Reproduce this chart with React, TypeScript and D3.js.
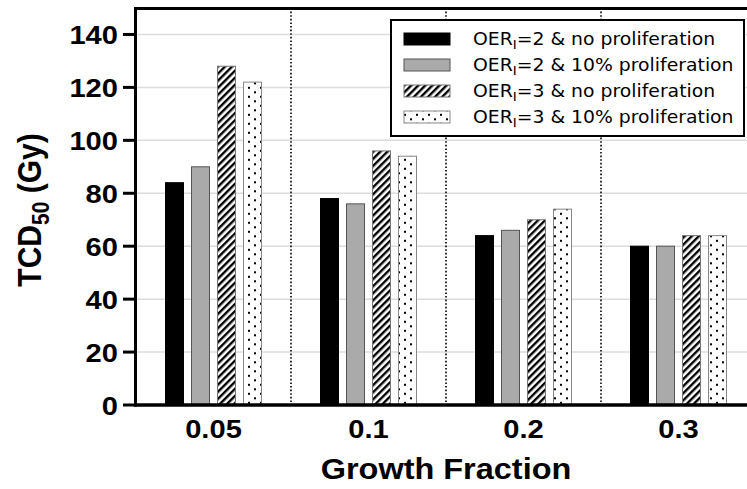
import React, { useRef, useEffect } from 'react';
import { select, scaleBand, scaleLinear } from 'd3';

const categories = ['0.05', '0.1', '0.2', '0.3'];
const seriesNames = ['oer2NoProl', 'oer2Prol', 'oer3NoProl', 'oer3Prol'];
const oer2NoProl = [84, 78, 64, 60];
const oer2Prol = [90, 76, 66, 60];
const oer3NoProl = [128, 96, 70, 64];
const oer3Prol = [122, 94, 74, 64];
const seriesValues = [oer2NoProl, oer2Prol, oer3NoProl, oer3Prol];
const yTicks = [0, 20, 40, 60, 80, 100, 120, 140];
const legendOer = ['2', '2', '3', '3'];
const legendRest = [' & no proliferation', ' & 10% proliferation', ' & no proliferation', ' & 10% proliferation'];

const W = 747;
const H = 489;
const SX = 1.12; // the source figure is a bit stretched horizontally

export default function App() {
    const ref = useRef<SVGSVGElement | null>(null);

    useEffect(() => {
        document.body.style.margin = '0';
        if (!ref.current) return;
        const svg = select(ref.current);
        svg.selectAll('*').remove();

        const left = 136, right = 756, top = 8, bottom = 405;

        const x0 = scaleBand<string>().domain(categories).range([left, right]);
        const x1 = scaleBand<string>().domain(seriesNames).range([0, 104]).paddingInner(8 / 26).paddingOuter(4 / 26);
        const groupOffset = (x0.bandwidth() - 104) / 2;
        const y = scaleLinear().domain([0, 150]).range([bottom, top]);

        const defs = svg.append('defs');
        const hatch = defs.append('pattern')
            .attr('id', 'hatch')
            .attr('patternUnits', 'userSpaceOnUse')
            .attr('width', 5).attr('height', 5)
            .attr('patternTransform', 'rotate(45)');
        hatch.append('rect').attr('width', 5).attr('height', 5).attr('fill', '#fff');
        hatch.append('line').attr('x1', 1.2).attr('y1', 0).attr('x2', 1.2).attr('y2', 5)
            .attr('stroke', '#000').attr('stroke-width', 2.4);

        const dots = defs.append('pattern')
            .attr('id', 'dots')
            .attr('patternUnits', 'userSpaceOnUse')
            .attr('width', 12).attr('height', 9);
        dots.append('rect').attr('width', 12).attr('height', 9).attr('fill', '#fff');
        dots.append('rect').attr('x', 2).attr('y', 1.3).attr('width', 2).attr('height', 2).attr('fill', '#000');
        dots.append('rect').attr('x', 8).attr('y', 5.8).attr('width', 2).attr('height', 2).attr('fill', '#000');

        const fills = ['#000', '#aaaaaa', 'url(#hatch)', 'url(#dots)'];
        const strokes = ['#000', '#555', '#777', '#888'];

        // grid
        svg.append('g').selectAll('line')
            .data(yTicks.filter(t => t > 0))
            .join('line')
            .attr('x1', left).attr('x2', right)
            .attr('y1', d => y(d)).attr('y2', d => y(d))
            .attr('stroke', '#dcdcdc').attr('stroke-width', 1.5);

        // dotted separators between groups
        svg.append('g').selectAll('line')
            .data(categories.slice(1))
            .join('line')
            .attr('x1', d => x0(d) as number).attr('x2', d => x0(d) as number)
            .attr('y1', top).attr('y2', bottom)
            .attr('stroke', '#000').attr('stroke-width', 1.6)
            .attr('stroke-dasharray', '1.6,2');

        // bars
        seriesValues.forEach((vals, si) => {
            svg.append('g').selectAll('rect')
                .data(vals)
                .join('rect')
                .attr('x', (d, i) => (x0(categories[i]) as number) + groupOffset + (x1(seriesNames[si]) as number))
                .attr('y', d => y(d))
                .attr('width', x1.bandwidth())
                .attr('height', d => bottom - y(d))
                .attr('fill', fills[si])
                .attr('stroke', strokes[si])
                .attr('stroke-width', 1);
        });

        // frame
        svg.append('line').attr('x1', left - 1.5).attr('x2', W).attr('y1', top + 0.5).attr('y2', top + 0.5)
            .attr('stroke', '#000').attr('stroke-width', 3);
        svg.append('line').attr('x1', left - 1.5).attr('x2', W).attr('y1', bottom).attr('y2', bottom)
            .attr('stroke', '#000').attr('stroke-width', 3.5);
        svg.append('line').attr('x1', left - 0.5).attr('x2', left - 0.5).attr('y1', top - 1).attr('y2', bottom + 1.5)
            .attr('stroke', '#000').attr('stroke-width', 3);

        // y ticks
        const yAxis = svg.append('g');
        yAxis.selectAll('line')
            .data(yTicks)
            .join('line')
            .attr('x1', left - 13).attr('x2', left)
            .attr('y1', d => y(d)).attr('y2', d => y(d))
            .attr('stroke', '#000').attr('stroke-width', 3);
        yAxis.selectAll('text')
            .data(yTicks)
            .join('text')
            .attr('transform', d => `translate(${left - 18},${y(d) + 9.5}) scale(${SX},1)`)
            .attr('text-anchor', 'end')
            .style('font-family', '"Liberation Sans", Arial, sans-serif')
            .style('font-weight', 'bold')
            .style('font-size', '26px')
            .text(d => d);

        // x labels
        svg.append('g').selectAll('text')
            .data(categories)
            .join('text')
            .attr('transform', d => `translate(${(x0(d) as number) + x0.bandwidth() / 2},${438}) scale(${SX},1)`)
            .attr('text-anchor', 'middle')
            .style('font-family', '"Liberation Sans", Arial, sans-serif')
            .style('font-weight', 'bold')
            .style('font-size', '26px')
            .text(d => d);

        // axis titles
        svg.append('text')
            .attr('transform', `translate(${(left + right) / 2},479) scale(${SX},1)`)
            .attr('text-anchor', 'middle')
            .style('font-family', '"Liberation Sans", Arial, sans-serif')
            .style('font-weight', 'bold')
            .style('font-size', '29px')
            .text('Growth Fraction');

        const yt = svg.append('text')
            .attr('transform', `translate(41,210) scale(${SX},1) rotate(-90)`)
            .attr('text-anchor', 'middle')
            .style('font-family', '"Liberation Sans", Arial, sans-serif')
            .style('font-weight', 'bold')
            .style('font-size', '30px');
        yt.append('tspan').text('TCD');
        yt.append('tspan').attr('dy', 7).style('font-size', '21px').text('50');
        yt.append('tspan').attr('dy', -7).text(' (Gy)');

        // legend
        const lg = svg.append('g');
        lg.append('rect')
            .attr('x', 391).attr('y', 20).attr('width', 353).attr('height', 116)
            .attr('fill', '#fff').attr('stroke', '#000').attr('stroke-width', 2);
        seriesNames.forEach((s, i) => {
            const cy = 39 + i * 26;
            lg.append('rect')
                .attr('x', 404).attr('y', cy - 6).attr('width', 46).attr('height', 12)
                .attr('fill', fills[i]).attr('stroke', strokes[i]).attr('stroke-width', 1);
            const t = lg.append('text')
                .attr('transform', `translate(473,${cy + 6}) scale(${SX},1)`)
                .style('font-family', '"DejaVu Sans", Verdana, sans-serif')
                .style('font-size', '16.8px');
            t.append('tspan').text('OER');
            t.append('tspan').attr('dy', 4).style('font-size', '12px').text('I');
            t.append('tspan').attr('dy', -4).text('=' + legendOer[i] + legendRest[i]);
        });
    }, []);

    return (
        <div style={{ position: 'absolute', left: 0, top: 0, width: W, height: H, background: '#fff' }}>
            <svg ref={ref} width={W} height={H} style={{ display: 'block', overflow: 'hidden' }} />
        </div>
    );
}
